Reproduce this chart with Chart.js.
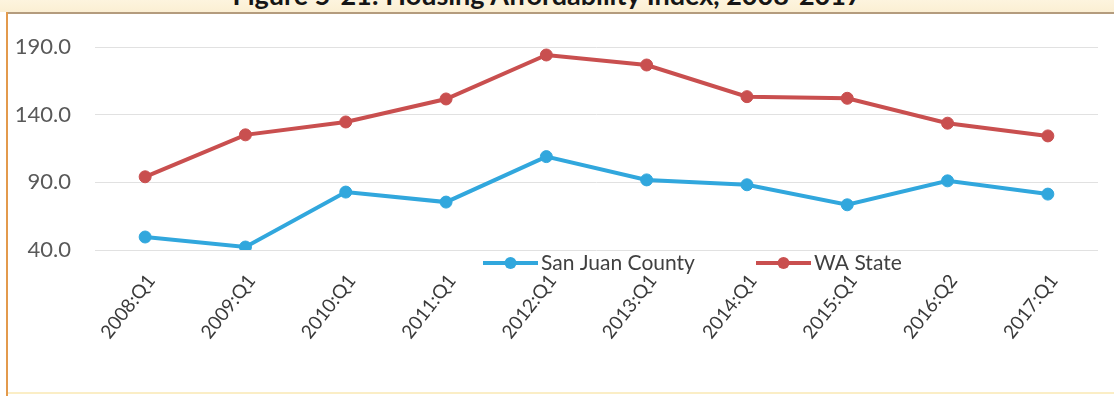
<!DOCTYPE html>
<html>
<head>
<meta charset="utf-8">
<script src="https://cdn.jsdelivr.net/npm/chart.js@4.4.1/dist/chart.umd.min.js"></script>
<style>
  html, body { margin: 0; padding: 0; background: #fff; }
  #wrap { position: relative; width: 1114px; height: 396px; overflow: hidden; background: #fff; }
  #band { position: absolute; left: 0; top: 0; width: 1114px; height: 12px; background: linear-gradient(#fdf4de, #fbefd3); }
  #title { position: absolute; left: -10px; width: 1114px; top: -22px; text-align: center;
           font: bold 27px Lato, sans-serif; color: #161616; white-space: nowrap; }
  #topRule { position: absolute; left: 6px; right: 0; top: 12px; height: 2px; background: #b49c7e; }
  #leftRule { position: absolute; left: 6px; top: 12px; bottom: 0; width: 2px; background: #e39a4c; }
  #botRule { position: absolute; left: 8px; right: 0; bottom: 2px; height: 2px; background: #fbeec6; }
  #chart { position: absolute; left: 0; top: 0; }
</style>
</head>
<body>
<div id="wrap">
  <div id="band"></div>
  <div id="title">Figure 5-21: Housing Affordability Index, 2008-2017</div>
  <div id="topRule"></div>
  <div id="leftRule"></div>
  <div id="botRule"></div>
  <canvas id="chart" width="1114" height="396"></canvas>
</div>
<script>
// Quarter labels along the x axis
const categories = ['2008:Q1', '2009:Q1', '2010:Q1', '2011:Q1', '2012:Q1',
                    '2013:Q1', '2014:Q1', '2015:Q1', '2016:Q2', '2017:Q1'];

// Housing Affordability Index by period
const sanJuanCounty = [49.6, 42.2, 82.8, 75.4, 109.0, 91.8, 88.2, 73.4, 91.1, 81.3];
const waState       = [94.1, 125.1, 134.6, 151.6, 184.1, 176.7, 153.3, 152.1, 133.7, 124.3];

// Value axis ticks
const yTicks = [40, 90, 140, 190];

const seriesNames = ['San Juan County', 'WA State'];
const seriesColors = ['#31a7dd', '#c94f4f'];

// Legend drawn inside the plot, just above the rotated period labels
const inlineLegend = {
  id: 'inlineLegend',
  afterDraw(chart) {
    const { ctx, chartArea } = chart;
    const y = chartArea.bottom + 13;
    const starts = [chartArea.left + 388, chartArea.left + 661];
    ctx.save();
    ctx.font = '21px Lato, sans-serif';
    ctx.textBaseline = 'middle';
    ctx.textAlign = 'left';
    chart.data.datasets.forEach((ds, i) => {
      const x0 = starts[i];
      const len = 55;
      ctx.strokeStyle = ds.borderColor;
      ctx.lineWidth = 4;
      ctx.lineCap = 'butt';
      ctx.beginPath();
      ctx.moveTo(x0, y);
      ctx.lineTo(x0 + len, y);
      ctx.stroke();
      ctx.fillStyle = ds.pointBackgroundColor;
      ctx.beginPath();
      ctx.arc(x0 + len / 2, y, 6, 0, Math.PI * 2);
      ctx.fill();
      ctx.fillStyle = '#404040';
      ctx.fillText(ds.label, x0 + len + 3, y);
    });
    ctx.restore();
  }
};

new Chart(document.getElementById('chart'), {
  type: 'line',
  data: {
    labels: categories,
    datasets: [sanJuanCounty, waState].map((values, i) => ({
      label: seriesNames[i],
      data: values,
      borderColor: seriesColors[i],
      backgroundColor: seriesColors[i],
      pointBackgroundColor: seriesColors[i],
      pointBorderColor: seriesColors[i],
      borderWidth: 4,
      pointRadius: 6,
      pointBorderWidth: 1,
      tension: 0,
      fill: false
    }))
  },
  options: {
    responsive: false,
    animation: false,
    layout: { padding: { top: 47, right: 16, left: 0, bottom: 0 } },
    plugins: {
      legend: { display: false },
      tooltip: { enabled: false },
      title: { display: false }
    },
    scales: {
      x: {
        type: 'category',
        offset: true,
        grid: { display: false },
        border: { display: false },
        ticks: {
          color: '#3a3a3a',
          font: { family: 'Lato', size: 19 },
          minRotation: 52,
          maxRotation: 52,
          padding: 12,
          labelOffset: 6,
          autoSkip: false
        },
        afterFit(scale) { scale.height = 146; }
      },
      y: {
        min: 40,
        max: 190,
        afterBuildTicks(scale) { scale.ticks = yTicks.map(v => ({ value: v })); },
        ticks: {
          color: '#595959',
          font: { family: 'Lato', size: 22 },
          padding: 24,
          callback: v => Number(v).toFixed(1)
        },
        grid: { color: '#e1e1e1', lineWidth: 1, drawTicks: false },
        border: { display: false },
        afterFit(scale) { scale.width = 95; }
      }
    }
  },
  plugins: [inlineLegend]
});
</script>
</body>
</html>
